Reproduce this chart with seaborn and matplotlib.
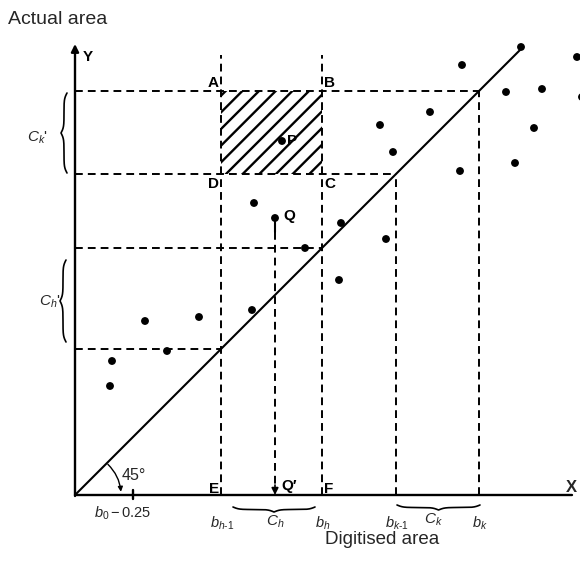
import matplotlib
matplotlib.use("Agg")
import matplotlib.pyplot as plt
from matplotlib.patches import Rectangle
import numpy as np
import seaborn as sns

sns.set_theme(style="white")
plt.rcParams["font.family"] = ["Liberation Sans", "DejaVu Sans"]
plt.rcParams["mathtext.fontset"] = "custom"
plt.rcParams["mathtext.rm"] = "Liberation Sans"
plt.rcParams["mathtext.it"] = "Liberation Sans:italic"
plt.rcParams["mathtext.bf"] = "Liberation Sans:bold"
plt.rcParams["hatch.linewidth"] = 1.7

# class bounds b_{h-1}, b_h, b_{k-1}, b_k (same scale on both axes)
bounds = [146, 247, 321, 404]
bound_labels = [r"$b_{h\text{-}1}$", r"$b_h$", r"$b_{k\text{-}1}$", r"$b_k$"]
b0_tick = 58
top_of_h_lines = 440

# observed points: digitised area (x) vs actual area (y)
digitised = [35, 37, 70, 92, 124, 177, 179, 230, 264, 266, 305, 311, 318,
             355, 385, 387, 431, 440, 446, 459, 467, 502, 507]
actual = [109, 134, 174, 144, 178, 185, 292, 247, 215, 272, 370, 256, 343,
          383, 324, 430, 403, 332, 448, 367, 406, 438, 398]
point_P = (207, 354)
point_Q = (200, 277)
diag_end = 445

fig = plt.figure(figsize=(5.8, 5.74), dpi=100)
ax = fig.add_axes([0, 0, 1, 1])
ax.set_xlim(-75, 505)
ax.set_ylim(-79, 495)
ax.axis("off")

dash = dict(color="black", lw=1.4, linestyle=(0, (4, 2.6)))

# axes
ax.annotate("", xy=(0, 451), xytext=(0, -1),
            arrowprops=dict(arrowstyle="-|>", lw=1.7, color="black", mutation_scale=11,
                            shrinkA=0, shrinkB=0))
ax.plot([0, 497], [0, 0], color="black", lw=1.7)
ax.plot([b0_tick, b0_tick], [-4, 5], color="black", lw=1.7)

# 45 degree line
sns.lineplot(x=[0, diag_end], y=[0, diag_end], color="black", lw=1.5, ax=ax)

# dashed guides
for i, b in enumerate(bounds):
    ax.plot([0, b], [b, b], **dash)
    top = top_of_h_lines if i < 2 else b
    ax.plot([b, b], [0, top], **dash)

# hatched cell ABCD
ax.add_patch(Rectangle((bounds[0], bounds[2]), bounds[1] - bounds[0], bounds[3] - bounds[2],
                       fill=False, hatch="//", edgecolor="black", linewidth=0))

# points
sns.scatterplot(x=digitised + [point_P[0], point_Q[0]], y=actual + [point_P[1], point_Q[1]],
                color="black", s=32, edgecolor="none", ax=ax, clip_on=False, zorder=3)

# Q -> Q'
ax.plot([point_Q[0], point_Q[0]], [point_Q[1], point_Q[1] - 14], color="black", lw=1.5)
ax.plot([point_Q[0], point_Q[0]], [point_Q[1] - 14, 8], **dash)
ax.annotate("", xy=(point_Q[0], 0), xytext=(point_Q[0], 10),
            arrowprops=dict(arrowstyle="-|>", lw=1.2, color="black", mutation_scale=10,
                            shrinkA=0, shrinkB=0))


def brace(a, b, base, depth, vertical):
    half = np.linspace(0, 0.5, 101)
    beta = 28
    h = 1 / (1 + np.exp(-beta * half)) + 1 / (1 + np.exp(-beta * (half - 0.5))) - 0.5
    shape = np.concatenate([h, h[-2::-1]])
    along = np.linspace(a, b, len(shape))
    across = base + depth * shape
    if vertical:
        ax.plot(across, along, color="black", lw=1.2)
    else:
        ax.plot(along, across, color="black", lw=1.2)


brace(322, 402, -8, -6, True)
brace(153, 235, -9, -6, True)
brace(158, 240, -12, -5, False)
brace(322, 405, -10, -5, False)

# text
bold = dict(fontsize=11, fontweight="bold", color="black")
ax.text(-67, 475, "Actual area", fontsize=14, va="center", ha="left")
ax.text(307, -45, "Digitised area", fontsize=13.5, va="center", ha="center")
ax.text(8, 438, "Y", va="center", ha="left", **bold)
ax.text(491, 8, "X", va="center", ha="left", fontsize=12, fontweight="bold")
ax.text(bounds[0] - 2, bounds[3] + 8, "A", va="center", ha="right", **bold)
ax.text(bounds[1] + 2, bounds[3] + 8, "B", va="center", ha="left", **bold)
ax.text(bounds[0] - 2, bounds[2] - 10, "D", va="center", ha="right", **bold)
ax.text(bounds[1] + 2, bounds[2] - 10, "C", va="center", ha="left", **bold)
ax.text(bounds[0] - 2, 6, "E", va="center", ha="right", **bold)
ax.text(bounds[1] + 2, 6, "F", va="center", ha="left", **bold)
ax.text(point_P[0] + 5, point_P[1], "P", va="center", ha="left", **bold)
ax.text(point_Q[0] + 8, point_Q[1] + 2, "Q", va="center", ha="left", **bold)
ax.text(point_Q[0] + 6, 9, "Q′", va="center", ha="left", **bold)

for b, lab in zip(bounds, bound_labels):
    ax.text(b + 1, -28, lab, fontsize=10.5, va="center", ha="center")
ax.text(48, -18, r"$b_0 - 0.25$", fontsize=10.5, va="center", ha="center")
ax.text((bounds[0] + bounds[1]) / 2 + 4, -27, r"$C_h$", fontsize=11, va="center", ha="center")
ax.text((bounds[2] + bounds[3]) / 2 - 4, -25, r"$C_k$", fontsize=11, va="center", ha="center")
ax.text(-38, 357, r"$C_k$'", fontsize=11, va="center", ha="center")
ax.text(-25, 193, r"$C_h$'", fontsize=11, va="center", ha="center")

# 45 degree marker
ang = np.deg2rad([43, 4])
ax.annotate("", xy=(46 * np.cos(ang[1]), 46 * np.sin(ang[1])),
            xytext=(45 * np.cos(ang[0]), 45 * np.sin(ang[0])),
            arrowprops=dict(arrowstyle="-|>", lw=1.0, color="black", mutation_scale=7,
                            connectionstyle="arc3,rad=-0.18", shrinkA=0, shrinkB=0))
ax.text(47, 19, "45°", fontsize=11.5, va="center", ha="left")

fig.savefig("out.png", dpi=100)
